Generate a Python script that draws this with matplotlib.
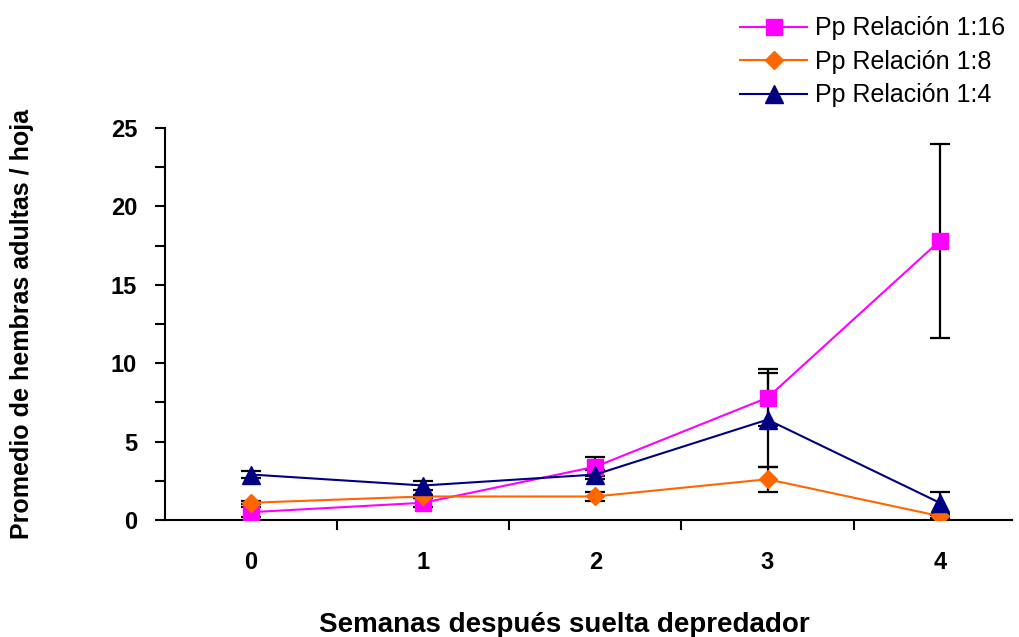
import matplotlib.pyplot as plt
from matplotlib.ticker import MultipleLocator, FixedLocator

semanas = [0, 1, 2, 3, 4]
semana_labels = ["0", "1", "2", "3", "4"]

# promedio de hembras adultas por hoja
rel_16 = [0.5, 1.1, 3.4, 7.8, 17.8]
rel_8 = [1.1, 1.5, 1.5, 2.6, 0.25]
rel_4 = [2.9, 2.2, 2.9, 6.4, 1.1]

# error estandar
err_16 = [0.3, 0.3, 0.6, 1.8, 6.2]
err_8 = [0.1, 0.1, 0.3, 0.8, 0.1]
err_4 = [0.2, 0.3, 0.3, 3.0, 0.7]

plt.rcParams['font.family'] = ['Liberation Sans', 'DejaVu Sans']

fig = plt.figure(figsize=(10.19, 6.37), dpi=100)
ax = fig.add_axes([165/1019, 1 - 520/637, (1012 - 165)/1019, (520 - 128)/637])

series = [
    (rel_16, err_16, '#FF00FF', 's', 12, "Pp Relación 1:16"),
    (rel_8, err_8, '#FF6600', 'D', 9, "Pp Relación 1:8"),
    (rel_4, err_4, '#000080', '^', 13, "Pp Relación 1:4"),
]

for vals, errs, col, mk, ms, lab in series:
    ax.errorbar(semanas, vals, yerr=errs, fmt='none', ecolor='black',
                elinewidth=1.6, capsize=7, capthick=1.6, zorder=2)
    ax.plot(semanas, vals, color=col, marker=mk, markersize=ms,
            linewidth=1.5, label=lab, zorder=3)

ax.set_xlim(-0.5, 4.42)
ax.set_ylim(0, 25)

ax.xaxis.set_major_locator(FixedLocator(semanas))
ax.set_xticklabels(semana_labels)
ax.xaxis.set_minor_locator(FixedLocator([0.5, 1.5, 2.5, 3.5]))
ax.tick_params(axis='x', which='major', length=0, pad=22, labelsize=17)
ax.tick_params(axis='x', which='minor', direction='out', length=7, width=1.5)

ax.yaxis.set_major_locator(MultipleLocator(5))
ax.yaxis.set_minor_locator(MultipleLocator(2.5))
ax.tick_params(axis='y', which='both', direction='out', length=7, width=1.5)
ax.tick_params(axis='y', which='major', pad=13, labelsize=17)

for lbl in ax.get_xticklabels() + ax.get_yticklabels():
    lbl.set_fontweight('bold')

for side in ['top', 'right']:
    ax.spines[side].set_visible(False)
for side in ['left', 'bottom']:
    ax.spines[side].set_linewidth(1.5)

ax.set_ylabel("Promedio de hembras adultas / hoja", fontsize=18, fontweight='bold')
ax.yaxis.set_label_coords(-0.155, 0.5)
ax.set_xlabel("Semanas después suelta depredador", fontsize=20, fontweight='bold')
ax.xaxis.set_label_coords(0.471, -0.235)

fig.legend(loc='upper left', bbox_to_anchor=(726/1019, 0.996), frameon=False,
           fontsize=18, handlelength=2.7, labelspacing=0.38, handletextpad=0.3,
           borderaxespad=0.15)

fig.savefig("out.png", dpi=100)
